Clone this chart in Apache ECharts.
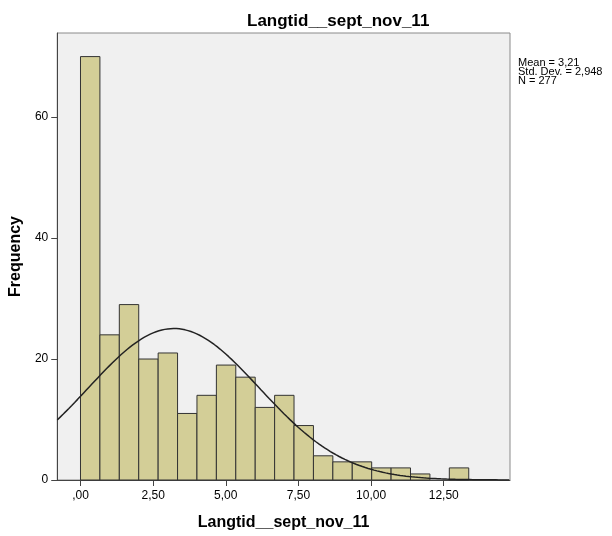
<!DOCTYPE html>
<html>
<head>
<meta charset="utf-8">
<script src="https://cdn.jsdelivr.net/npm/echarts@6/dist/echarts.min.js"></script>
<style>
  html, body { margin: 0; padding: 0; background: #fff; }
  #chart { width: 612px; height: 536px; }
</style>
</head>
<body>
<div id="chart"></div>
<script>
// histogram data
var binStart = 0;
var binWidth = 0.668;
var counts = [70, 24, 29, 20, 21, 11, 14, 19, 17, 12, 14, 9, 4, 3, 3, 2, 2, 1, 0, 2];

// stats shown in the chart
var mean = 3.21;
var stdDev = 2.948;
var n = 277;

// axis ticks
var xTickValues = [0, 2.5, 5, 7.5, 10, 12.5];
var xTickLabels = [',00', '2,50', '5,00', '7,50', '10,00', '12,50'];
var yTickValues = [0, 20, 40, 60];

var xMin = -0.8, xMax = 14.78;
var font = 'Liberation Sans, Arial, sans-serif';
var barColor = '#d3ce97';

var barData = [];
counts.forEach(function (c, i) {
    if (c > 0) barData.push([binStart + i * binWidth, binStart + (i + 1) * binWidth, c]);
});

// fitted normal curve, scaled to counts
var curveData = [];
for (var x = xMin; x <= xMax + 1e-9; x += 0.05) {
    var z = (x - mean) / stdDev;
    var y = n * binWidth / (stdDev * Math.sqrt(2 * Math.PI)) * Math.exp(-0.5 * z * z);
    curveData.push([x, y]);
}

var myChart = echarts.init(document.getElementById('chart'));

var option = {
    animation: false,
    backgroundColor: '#fff',
    title: {
        text: 'Langtid__sept_nov_11',
        left: 242,
        top: 8,
        textStyle: { fontFamily: font, fontSize: 17, fontWeight: 'bold', color: '#000' }
    },
    graphic: [{
        type: 'text',
        left: 518,
        top: 57,
        style: {
            text: 'Mean = 3,21\nStd. Dev. = 2,948\nN = 277',
            font: '11px ' + font,
            lineHeight: 9.3,
            fill: '#000'
        }
    }],
    grid: {
        left: 55, right: 102, top: 33, bottom: 54,
        show: true,
        backgroundColor: '#f0f0f0',
        borderColor: '#8a8a8a',
        borderWidth: 1
    },
    xAxis: {
        type: 'value',
        min: xMin,
        max: xMax,
        name: 'Langtid__sept_nov_11',
        nameLocation: 'middle',
        nameGap: 35,
        nameTextStyle: { fontFamily: font, fontSize: 16, fontWeight: 'bold', color: '#000' },
        splitLine: { show: false },
        axisLine: { onZero: false, lineStyle: { color: '#444', width: 1 } },
        axisTick: { customValues: xTickValues, length: 6, lineStyle: { color: '#444' } },
        axisLabel: {
            customValues: xTickValues,
            margin: 10,
            fontFamily: font, fontSize: 12, color: '#000',
            formatter: function (v) {
                var i = xTickValues.indexOf(v);
                return i >= 0 ? xTickLabels[i] : '';
            }
        }
    },
    yAxis: {
        type: 'value',
        min: 0,
        max: 73.9,
        name: 'Frequency',
        nameLocation: 'middle',
        nameGap: 33,
        nameTextStyle: { fontFamily: font, fontSize: 16, fontWeight: 'bold', color: '#000' },
        splitLine: { show: false },
        axisLine: { show: true, onZero: false, lineStyle: { color: '#444', width: 1 } },
        axisTick: { show: true, customValues: yTickValues, length: 6, lineStyle: { color: '#444' } },
        axisLabel: {
            customValues: yTickValues,
            margin: 9,
            fontFamily: font, fontSize: 12, color: '#000'
        }
    },
    series: [{
        type: 'custom',
        data: barData,
        encode: { x: [0, 1], y: 2 },
        z: 2,
        renderItem: function (params, api) {
            var p0 = api.coord([api.value(0), api.value(2)]);
            var p1 = api.coord([api.value(1), 0]);
            return {
                type: 'rect',
                shape: { x: p0[0], y: p0[1], width: p1[0] - p0[0], height: p1[1] - p0[1] },
                style: { fill: barColor, stroke: '#333', lineWidth: 1 }
            };
        }
    }, {
        type: 'line',
        data: curveData,
        showSymbol: false,
        smooth: false,
        z: 3,
        lineStyle: { color: '#222', width: 1.5 }
    }]
};

myChart.setOption(option);
</script>
</body>
</html>
